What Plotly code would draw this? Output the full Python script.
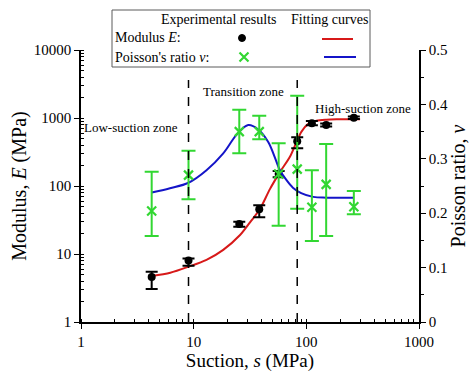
import plotly.graph_objects as go

# ---- data ----
suction = [4.24, 9.0, 25.4, 38.2, 56.8, 83.0, 112.0, 150.0, 264.0]
modulus = [4.6, 8.0, 27.6, 45.4, 150.0, 454.0, 836.0, 788.0, 1010.0]
mod_err_plus = [0.9, 0.6, 2.2, 6.6, 16.0, 66.0, 67.0, 40.0, 45.0]
mod_err_minus = [1.54, 1.3, 2.4, 10.7, 16.0, 96.0, 55.0, 40.0, 45.0]

poisson = [0.204, 0.270, 0.350, 0.350, 0.272, 0.281, 0.211, 0.253, 0.212]
poi_err_plus = [0.072, 0.045, 0.040, 0.029, 0.0565, 0.135, 0.068, 0.074, 0.029]
poi_err_minus = [0.046, 0.0445, 0.040, 0.014, 0.095, 0.073, 0.062, 0.095, 0.014]

fit_E_s = [4.24, 6.2, 9, 13, 18.3, 25.8, 32, 38.5, 47.5, 58.3, 71.5, 82, 90.6, 104, 123, 150, 185, 300]
fit_E = [4.75, 5.3, 6.5, 8.2, 11.5, 19, 30, 45, 90, 160, 269, 448, 630, 818, 912, 945, 958, 960]

fit_v_s = [4.24, 6.16, 9, 13, 18.3, 24, 30.5, 37.4, 45.9, 52, 58.3, 66, 76, 90, 115, 150, 261]
fit_v = [0.238, 0.246, 0.256, 0.279, 0.310, 0.344, 0.362, 0.354, 0.331, 0.305, 0.279, 0.262, 0.247, 0.237, 0.230, 0.2285, 0.2285]

zone_bounds = [9.0, 83.0]

x_tickvals = [1, 10, 100, 1000]
x_ticktext = ["1", "10", "100", "1000"]
y_tickvals = [1, 10, 100, 1000, 10000]
y_ticktext = ["1", "10", "100", "1000", "10000"]

FONT = "Liberation Serif"
GREEN = "rgb(50,215,50)"
RED = "rgb(215,25,25)"
BLUE = "rgb(20,20,200)"

L, R, T, B = 81, 419, 50, 322


def px(x):
    return (x - L) / (R - L)


def py(y):
    return (B - y) / (B - T)


fig = go.Figure()

fig.add_trace(go.Scatter(x=fit_E_s, y=fit_E, mode="lines", line=dict(color=RED, width=2, shape="spline", smoothing=0.8),
                         xaxis="x", yaxis="y", showlegend=False))
fig.add_trace(go.Scatter(x=fit_v_s, y=fit_v, mode="lines", line=dict(color=BLUE, width=2, shape="spline", smoothing=1.0),
                         xaxis="x", yaxis="y2", showlegend=False))
fig.add_trace(go.Scatter(x=suction, y=poisson, mode="markers",
                         marker=dict(symbol="x-thin", size=9, line=dict(color=GREEN, width=2.2), color=GREEN),
                         error_y=dict(type="data", symmetric=False, array=poi_err_plus, arrayminus=poi_err_minus,
                                      color=GREEN, thickness=2, width=7),
                         xaxis="x", yaxis="y2", showlegend=False))
fig.add_trace(go.Scatter(x=suction, y=modulus, mode="markers",
                         marker=dict(symbol="circle", size=8, color="black"),
                         error_y=dict(type="data", symmetric=False, array=mod_err_plus, arrayminus=mod_err_minus,
                                      color="black", thickness=2, width=6),
                         xaxis="x", yaxis="y", showlegend=False))

# legend marker sample (x) on a hidden overlay axis (paper-like coordinates)
fig.add_trace(go.Scatter(x=[px(244)], y=[py(57)], mode="markers",
                         marker=dict(symbol="x-thin", size=9, line=dict(color=GREEN, width=2.2), color=GREEN),
                         xaxis="x3", yaxis="y3", cliponaxis=False, showlegend=False))

axis_common = dict(showgrid=False, zeroline=False, showline=True, linecolor="black", linewidth=1.5,
                   tickcolor="black", tickfont=dict(family=FONT, size=15, color="black"), automargin=False)

shapes = []
for xb in zone_bounds:
    shapes.append(dict(type="line", xref="x", yref="paper", x0=xb, x1=xb, y0=0, y1=py(80),
                       line=dict(color="black", width=1.5, dash="dash")))
shapes.append(dict(type="rect", xref="paper", yref="paper", x0=px(112), x1=px(370), y0=py(67), y1=py(10),
                   line=dict(color="rgb(90,90,90)", width=1)))
shapes.append(dict(type="line", xref="paper", yref="paper", x0=px(322), x1=px(353), y0=py(39), y1=py(39),
                   line=dict(color=RED, width=2)))
shapes.append(dict(type="line", xref="paper", yref="paper", x0=px(324), x1=px(356), y0=py(57), y1=py(57),
                   line=dict(color=BLUE, width=2)))
shapes.append(dict(type="circle", xref="paper", yref="paper", x0=px(238.5), x1=px(245.5), y0=py(41.5), y1=py(34.5),
                   fillcolor="black", line=dict(color="black", width=1)))

ann_font = dict(family=FONT, size=14, color="black")
annotations = [
    dict(text="Experimental results", x=px(218), y=py(20), xanchor="center", yanchor="middle"),
    dict(text="Fitting curves", x=px(329), y=py(20), xanchor="center", yanchor="middle"),
    dict(text="Modulus <i>E</i>:", x=px(113), y=py(38), xanchor="left", yanchor="middle"),
    dict(text="Poisson's ratio <i>v</i>:", x=px(113), y=py(57), xanchor="left", yanchor="middle"),
    dict(text="Low-suction zone", x=px(82), y=py(127), xanchor="left", yanchor="middle",
         font=dict(family=FONT, size=13, color="black")),
    dict(text="Transition zone", x=px(243), y=py(91), xanchor="center", yanchor="middle",
         font=dict(family=FONT, size=13, color="black")),
    dict(text="High-suction zone", x=px(313), y=py(108), xanchor="left", yanchor="middle",
         font=dict(family=FONT, size=13, color="black")),
]
for a in annotations:
    a.update(xref="paper", yref="paper", showarrow=False)
    a.setdefault("font", ann_font)

fig.update_layout(
    width=469, height=372,
    margin=dict(l=L, r=469 - R, t=T, b=372 - B, pad=0, autoexpand=False),
    paper_bgcolor="white", plot_bgcolor="white",
    font=dict(family=FONT, color="black"),
    xaxis=dict(type="log", range=[0, 3], tickmode="array", tickvals=x_tickvals, ticktext=x_ticktext,
               ticks="outside", ticklen=5,
               minor=dict(ticks="inside", ticklen=3, tickcolor="black", showgrid=False, dtick="D1"),
               title=dict(text="Suction, <i>s</i> (MPa)", font=dict(family=FONT, size=19, color="black"), standoff=6),
               **axis_common),
    yaxis=dict(type="log", range=[0, 4], tickmode="array", tickvals=y_tickvals, ticktext=y_ticktext,
               ticks="outside", ticklen=5,
               minor=dict(ticks="inside", ticklen=3, tickcolor="black", showgrid=False, dtick="D1"),
               title=dict(text="Modulus, <i>E</i> (MPa)", font=dict(family=FONT, size=20, color="black"), standoff=2),
               **axis_common),
    yaxis2=dict(overlaying="y", side="right", range=[0, 0.5], dtick=0.1, ticks="outside", ticklen=5,
                minor=dict(ticks="outside", ticklen=3, dtick=0.05, tickcolor="black", showgrid=False),
                title=dict(text="Poisson ratio, <i>v</i>", font=dict(family=FONT, size=20, color="black"), standoff=28),
                **axis_common),
    xaxis3=dict(overlaying="x", range=[0, 1], visible=False),
    yaxis3=dict(overlaying="y", range=[0, 1], visible=False),
    shapes=shapes,
    annotations=annotations,
)

fig.write_html("out.html")
